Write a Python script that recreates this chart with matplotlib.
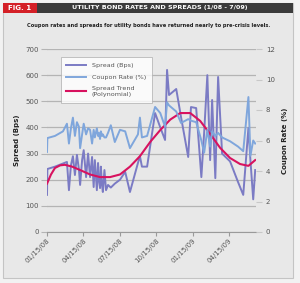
import matplotlib
matplotlib.use("Agg")
import matplotlib.pyplot as plt
import matplotlib.dates as mdates
import pandas as pd
from matplotlib.patches import Rectangle

# data
dates = ["2008-01-15", "2008-01-16", "2008-02-04", "2008-02-24", "2008-03-05",
         "2008-03-10", "2008-03-15", "2008-03-20", "2008-03-25", "2008-03-30",
         "2008-04-04", "2008-04-07", "2008-04-12", "2008-04-16", "2008-04-22",
         "2008-04-27", "2008-05-02", "2008-05-07", "2008-05-11", "2008-05-14",
         "2008-05-19", "2008-05-22", "2008-05-24", "2008-05-27", "2008-05-29",
         "2008-06-01", "2008-06-03", "2008-06-07", "2008-06-11", "2008-06-16",
         "2008-06-23", "2008-07-03", "2008-07-16", "2008-07-29", "2008-08-10",
         "2008-08-30", "2008-09-04", "2008-09-09", "2008-09-22", "2008-10-12",
         "2008-10-25", "2008-11-06", "2008-11-11", "2008-11-16", "2008-12-04",
         "2008-12-16", "2009-01-03", "2009-01-10", "2009-01-23", "2009-02-05",
         "2009-02-12", "2009-02-20", "2009-02-27", "2009-03-04", "2009-03-12",
         "2009-03-19", "2009-03-29", "2009-04-18", "2009-05-08", "2009-05-21",
         "2009-06-03", "2009-06-08", "2009-06-15", "2009-06-20"]
spread = [142, 241, 250, 262, 268, 160, 255, 290, 218, 295,
          240, 180, 275, 313, 210, 300, 210, 287, 172, 275,
          160, 264, 200, 168, 250, 180, 153, 237, 160, 180,
          170, 185, 200, 230, 153, 264, 290, 250, 250, 455,
          400, 352, 620, 524, 547, 440, 287, 478, 474, 210,
          380, 600, 275, 505, 206, 593, 300, 270, 191, 142,
          398, 275, 125, 237]
coupon = [5.25, 6.16, 6.3, 6.6, 7.1, 5.8, 6.8, 7.5, 6.3, 7.2,
          6.9, 5.5, 6.4, 7.1, 6.4, 6.8, 6.7, 5.8, 6.7, 6.2,
          6.8, 6.3, 6.5, 6.1, 6.6, 6.3, 6.4, 6.2, 6.2, 6.5,
          7.0, 5.9, 6.7, 6.6, 5.5, 6.4, 7.5, 6.2, 6.3, 8.2,
          7.8, 6.9, 8.5, 8.3, 7.9, 7.15, 7.4, 7.3, 7.2, 6.0,
          5.2, 6.7, 5.6, 6.6, 6.3, 6.5, 6.2, 5.95, 5.6, 5.3,
          8.85, 5.0, 6.0, 5.8]

trend_dates = ["2008-01-15", "2008-01-25", "2008-02-04", "2008-02-17", "2008-02-29",
               "2008-03-18", "2008-04-07", "2008-05-02", "2008-05-27", "2008-06-21",
               "2008-07-16", "2008-08-10", "2008-09-04", "2008-09-30", "2008-10-25",
               "2008-11-19", "2008-12-14", "2009-01-08", "2009-02-02", "2009-02-27",
               "2009-03-24", "2009-04-18", "2009-05-13", "2009-06-03", "2009-06-20"]
trend = [185, 220, 245, 255, 257, 250, 237, 220, 210, 210,
         220, 250, 290, 345, 390, 430, 455, 455, 425, 375,
         322, 283, 260, 253, 275]

tick_dates = ["2008-01-15", "2008-04-15", "2008-07-15", "2008-10-15", "2009-01-15", "2009-04-15"]

d = pd.to_datetime(dates)
td = pd.to_datetime(trend_dates)
xt = pd.to_datetime(tick_dates)

bg = "#e8e8e8"
c_spread = "#7b7bc4"
c_coupon = "#7fa6dc"
c_trend = "#d8125f"
grid_c = "#b4b4b4"
txt = "#555555"

fig = plt.figure(figsize=(3.0, 2.83), dpi=100, facecolor="#f2f2f2")
W, H = 300, 283

def fx(x):
    return x / W

def fy(y):
    return 1 - y / H

# panel background and frame
fig.patches.append(Rectangle((fx(3), fy(278)), fx(290), (278 - 3) / H,
                             transform=fig.transFigure, facecolor=bg,
                             edgecolor="#c4c4c4", lw=0.8, zorder=-2))
# header bar
fig.patches.append(Rectangle((fx(37), fy(13)), fx(256), 10 / H,
                             transform=fig.transFigure, facecolor="#3b3b3b",
                             edgecolor="none", zorder=-1))
fig.patches.append(Rectangle((fx(3), fy(13)), fx(34), 10 / H,
                             transform=fig.transFigure, facecolor="#d42027",
                             edgecolor="none", zorder=-1))
fig.text(fx(20), fy(8), "FIG. 1", color="white", fontsize=5, fontweight="bold",
         ha="center", va="center")
fig.text(fx(160), fy(8), "UTILITY BOND RATES AND SPREADS (1/08 - 7/09)", color="white",
         fontsize=4.6, fontweight="bold", ha="center", va="center")
fig.text(fx(149), fy(25), "Coupon rates and spreads for utility bonds have returned nearly to pre-crisis levels.",
         color="#222222", fontsize=3.7, fontweight="bold", ha="center", va="center")

ax = fig.add_axes([fx(47), fy(232), fx(256 - 47), (232 - 49) / H])
ax.set_facecolor(bg)
ax2 = ax.twinx()
ax.set_zorder(1)
ax2.set_zorder(2)

ax.plot(d, spread, color=c_spread, lw=1.4, zorder=3, label="Spread (Bps)")
ax2.plot(d, coupon, color=c_coupon, lw=1.4, zorder=2, label="Coupon Rate (%)")
ax.plot(td, trend, color=c_trend, lw=1.5, zorder=4, label="Spread Trend\n(Polynomial)")

ax.set_ylim(0, 700)
ax2.set_ylim(0, 12)
ax.set_yticks(range(0, 701, 100))
ax2.set_yticks(range(0, 13, 2))
ax.set_xlim(pd.Timestamp("2008-01-15"), pd.Timestamp("2009-06-22"))
ax.set_xticks(xt)
ax.xaxis.set_major_formatter(mdates.DateFormatter("%m/%d/%y"))

ax.grid(axis="y", color=grid_c, lw=0.9)
ax.set_axisbelow(True)
for a in (ax, ax2):
    for s in a.spines.values():
        s.set_visible(False)
ax.spines["bottom"].set_visible(True)
ax.spines["bottom"].set_color("#9a9a9a")

ax.tick_params(axis="y", length=4, color=grid_c, labelsize=5, labelcolor=txt, pad=2)
ax2.tick_params(axis="y", length=4, color="#c8c8c8", labelsize=5, labelcolor=txt, pad=3)
ax.tick_params(axis="x", length=3, color="#9a9a9a", labelsize=5, labelcolor=txt, pad=1)
for lab in ax.get_xticklabels():
    lab.set_rotation(45)
    lab.set_ha("right")
    lab.set_rotation_mode("anchor")

ax.set_ylabel("Spread (Bps)", fontsize=5, fontweight="bold", color="#222222", labelpad=4)
ax2.set_ylabel("Coupon Rate (%)", fontsize=5, fontweight="bold", color="#222222",
               rotation=90, labelpad=5)

# legend lives on the top axes so it sits above every line
h1, l1 = ax.get_legend_handles_labels()
h2, l2 = ax2.get_legend_handles_labels()
handles = [h1[0], h2[0], h1[1]]
labels = [l1[0], l2[0], l1[1]]
leg = ax2.legend(handles, labels, loc="upper left", bbox_to_anchor=(0.05, 0.975),
                 fontsize=4.6, frameon=True, fancybox=False, handlelength=3.0,
                 borderpad=0.9, labelspacing=1.0, handletextpad=1.0)
leg.get_frame().set_edgecolor("#aaaaaa")
leg.get_frame().set_linewidth(0.6)
leg.get_frame().set_facecolor("white")
for t in leg.get_texts():
    t.set_color(txt)

fig.savefig("out.png", dpi=100, facecolor=fig.get_facecolor())
